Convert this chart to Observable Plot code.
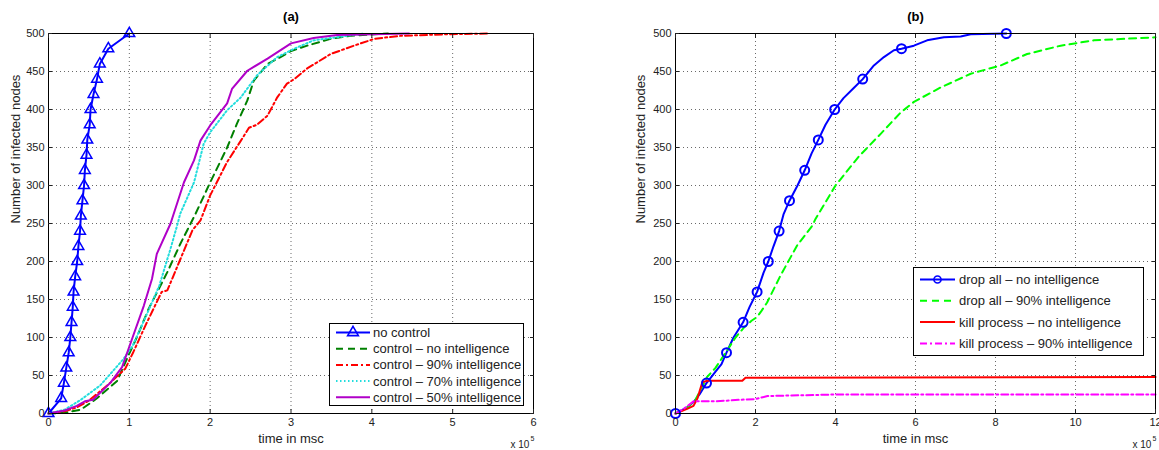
<!DOCTYPE html>
<html><head><meta charset="utf-8">
<script src="https://cdn.jsdelivr.net/npm/d3@7"></script>
<script src="https://cdn.jsdelivr.net/npm/@observablehq/plot@0.6"></script>
<style>
body{margin:0;background:#fff;font-family:"Liberation Sans",Arial,sans-serif;}
#wrap{position:relative;width:1159px;height:450px;overflow:hidden;}
</style></head><body><div id="wrap"></div>
<script>
// ---------- data (x in units of 10^5 msc, y = infected nodes) ----------
const yTicks = [0,50,100,150,200,250,300,350,400,450,500];
const xTicksA = [0,1,2,3,4,5,6];
const xTicksB = [0,2,4,6,8,10,12];

// panel (a)
const noControl = [[0,0],[0.157,20],[0.19,40],[0.22,60],[0.25,80],[0.27,100],[0.285,120],[0.30,140],[0.31,160],[0.33,180],[0.355,200],[0.37,220],[0.39,240],[0.40,260],[0.42,280],[0.44,300],[0.45,320],[0.47,340],[0.48,360],[0.51,380],[0.52,400],[0.557,420],[0.60,440],[0.635,460],[0.74,480],[1.0,500]];
const ctrlNoInt = [[0,0],[0.2,1],[0.4,5],[0.6,20],[0.85,43],[0.97,72],[1.1,102],[1.24,138],[1.47,186],[1.63,223],[1.82,263],[2.0,304],[2.21,350],[2.33,381],[2.46,412],[2.54,438],[2.71,460],[2.87,469],[3.0,477],[3.2,484],[3.49,493],[3.74,497],[4.2,500]];
const ctrl90 = [[0,0],[0.2,3],[0.35,8],[0.5,17],[0.75,39],[0.95,59],[1.05,81],[1.2,116],[1.4,160],[1.47,162],[1.6,195],[1.78,241],[1.88,254],[2.0,287],[2.21,331],[2.38,359],[2.48,376],[2.58,380],[2.71,392],[2.83,416],[2.95,434],[3.04,440],[3.2,454],[3.49,473],[3.78,484],[4.03,493],[4.36,497],[4.93,499],[5.43,500]];
const ctrl70 = [[0,0],[0.2,5],[0.4,18],[0.64,37],[0.93,72],[1.04,89],[1.18,122],[1.37,168],[1.51,217],[1.59,247],[1.63,263],[1.80,304],[1.92,355],[2.0,370],[2.21,399],[2.38,416],[2.58,445],[2.83,469],[3.04,480],[3.28,491],[3.70,497],[3.9,500]];
const ctrl50 = [[0,0],[0.2,4],[0.35,10],[0.45,16],[0.55,18],[0.77,41],[0.91,61],[1.04,100],[1.18,142],[1.28,177],[1.34,210],[1.51,250],[1.675,304],[1.80,333],[1.88,359],[2.0,379],[2.21,408],[2.27,427],[2.46,451],[2.71,467],[3.0,487],[3.28,494],[3.57,498],[4.46,500]];

// panel (b)
const dropNoInt = [[0,0],[0.29,8],[0.45,15],[0.6,25],[0.775,40],[1.0,55],[1.15,65],[1.275,80],[1.45,100],[1.69,120],[1.85,140],[2.04,160],[2.2,185],[2.32,200],[2.45,220],[2.59,240],[2.7,262],[2.85,280],[3.05,300],[3.23,320],[3.4,342],[3.57,360],[3.75,380],[3.98,400],[4.2,415],[4.45,428],[4.68,440],[4.96,458],[5.21,469],[5.46,478],[5.65,480],[5.96,484],[6.29,491],[6.71,495],[7.13,496],[7.38,499],[8.27,500]];
const dropNoIntMarkers = [[0,0],[0.775,40],[1.275,80],[1.69,120],[2.04,160],[2.32,200],[2.59,240],[2.85,280],[3.23,320],[3.57,360],[3.98,400],[4.68,440],[5.65,480],[8.27,500]];
const drop90 = [[0,0],[0.3,8],[0.5,18],[0.79,48],[1.0,60],[1.29,83],[1.5,100],[1.71,113],[1.9,122],[2.04,127],[2.15,135],[2.29,146],[2.63,182],[3.04,221],[3.42,247],[3.5,256],[4.0,300],[4.58,338],[5.13,368],[5.63,396],[5.96,410],[6.63,429],[7.38,447],[8.13,458],[8.79,473],[9.63,484],[10.46,491],[12,495]];
const killNoInt = [[0,0],[0.29,6],[0.45,10],[0.55,20],[0.67,41],[0.79,43],[1.67,43],[1.75,47],[12,48]];
const kill90 = [[0,0],[0.2,6],[0.45,16],[1.0,16],[1.6,18],[2.0,19],[2.3,23],[4.0,25],[12,25]];

const legendA = ["no control","control – no intelligence","control – 90% intelligence","control – 70% intelligence","control – 50% intelligence"];
const legendB = ["drop all – no intelligence","drop all – 90% intelligence","kill process – no intelligence","kill process – 90% intelligence"];

// ---------- styles ----------
const S = {
  noControl:{stroke:"#0000ff", w:2, dash:null, marker:"triangle"},
  ctrlNoInt:{stroke:"#008000", w:2, dash:"7,5"},
  ctrl90:{stroke:"#ff0000", w:2, dash:"7,3,2,3"},
  ctrl70:{stroke:"#22dddd", w:2, dash:"1.5,2.5"},
  ctrl50:{stroke:"#b000c8", w:2, dash:null},
  dropNoInt:{stroke:"#0000ff", w:2, dash:null, marker:"circle"},
  drop90:{stroke:"#00ff00", w:2, dash:"7,5"},
  killNoInt:{stroke:"#ff0000", w:2, dash:null},
  kill90:{stroke:"#ff00ff", w:2, dash:"7,3,2,3"}
};

const fx = d => d[0], fy = d => d[1];
const FONT = "'Liberation Sans', Arial, Helvetica, sans-serif";

function panel({title, xDomain, xTicks, series, extra, width, marginLeft, marginRight, ylabDx}) {
  return Plot.plot({
    width, height: 450, marginLeft, marginRight, marginTop: 33, marginBottom: 37,
    style: {fontFamily: FONT, fontSize: "11px", color: "#222", background: "#fff", overflow: "visible"},
    x: {domain: xDomain},
    y: {domain: [0, 500]},
    marks: [
      Plot.gridX(xTicks, {stroke: "#444", strokeOpacity: 0.8, strokeDasharray: "1,3"}),
      Plot.gridY(yTicks, {stroke: "#444", strokeOpacity: 0.8, strokeDasharray: "1,3"}),
      ...series.map(([data, s]) => Plot.line(data, {x: fx, y: fy, stroke: s.stroke, strokeWidth: s.w, strokeDasharray: s.dash})),
      ...extra,
      Plot.frame({stroke: "#000"}),
      Plot.axisX(xTicks, {anchor: "bottom", tickSize: -4, tickFormat: () => "", label: null}),
      Plot.axisX(xTicks, {anchor: "top", tickSize: -4, tickFormat: () => "", label: null}),
      Plot.axisY(yTicks, {anchor: "left", tickSize: -4, tickFormat: () => "", label: null}),
      Plot.axisY(yTicks, {anchor: "right", tickSize: -4, tickFormat: () => "", label: null}),
      Plot.axisX(xTicks, {anchor: "bottom", tickSize: 0, tickPadding: 5, label: null, fontSize: 11}),
      Plot.axisY(yTicks, {anchor: "left", tickSize: 0, tickPadding: 4, label: null, fontSize: 11}),
      Plot.text([title], {frameAnchor: "top", dy: -22, fontWeight: "bold", fontSize: 13, fill: "#000"}),
      Plot.text(["time in msc"], {frameAnchor: "bottom", dy: 29, fontSize: 13, fill: "#222"}),
      Plot.text(["Number of infected nodes"], {frameAnchor: "left", dx: ylabDx, rotate: -90, fontSize: 13, fill: "#222"}),
      Plot.text(["x 10"], {frameAnchor: "bottom-right", dx: -23, dy: 34, textAnchor: "start", fontSize: 10, fill: "#222"}),
      Plot.text(["5"], {frameAnchor: "bottom-right", dx: -3, dy: 27, textAnchor: "start", fontSize: 7, fill: "#222"})
    ]
  });
}

const wrap = document.getElementById("wrap");

const plotA = panel({
  title: "(a)", xDomain: [0, 6], xTicks: xTicksA, width: 580, marginLeft: 48, marginRight: 47, ylabDx: -33,
  series: [[noControl, S.noControl],[ctrlNoInt, S.ctrlNoInt],[ctrl90, S.ctrl90],[ctrl70, S.ctrl70],[ctrl50, S.ctrl50]],
  extra: [Plot.dot(noControl, {x: fx, y: fy, symbol: "triangle", r: 4, stroke: "#0000ff", strokeWidth: 1.5, fill: "none"})]
});
plotA.style.position = "absolute"; plotA.style.left = "0px"; plotA.style.top = "0px";
wrap.appendChild(plotA);

const plotB = panel({
  title: "(b)", xDomain: [0, 12], xTicks: xTicksB, width: 579, marginLeft: 95, marginRight: 4, ylabDx: -35,
  series: [[dropNoInt, S.dropNoInt],[drop90, S.drop90],[killNoInt, S.killNoInt],[kill90, S.kill90]],
  extra: [Plot.dot(dropNoIntMarkers, {x: fx, y: fy, symbol: "circle", r: 4.5, stroke: "#0000ff", strokeWidth: 2, fill: "none"})]
});
plotB.style.position = "absolute"; plotB.style.left = "580px"; plotB.style.top = "0px";
wrap.appendChild(plotB);

// ---------- in-plot legends ----------
function legend(labels, styles, {left, top, width, height, y0, rowH, lx0, lx1, tx}) {
  const svg = d3.create("svg").attr("width", width).attr("height", height)
    .style("position", "absolute").style("left", left + "px").style("top", top + "px")
    .style("font-family", FONT).style("font-size", "13px");
  svg.append("rect").attr("x", 0.5).attr("y", 0.5).attr("width", width - 1).attr("height", height - 1)
    .attr("fill", "#fff").attr("stroke", "#000");
  labels.forEach((lab, i) => {
    const s = styles[i], y = y0 + i * rowH;
    svg.append("line").attr("x1", lx0).attr("x2", lx1).attr("y1", y).attr("y2", y)
      .attr("stroke", s.stroke).attr("stroke-width", s.w).attr("stroke-dasharray", s.dash);
    if (s.marker) {
      const sym = s.marker === "triangle" ? d3.symbolTriangle : d3.symbolCircle;
      const size = s.marker === "triangle" ? 50 : 40;
      svg.append("path").attr("d", d3.symbol(sym, size)()).attr("transform", `translate(${(lx0 + lx1) / 2},${y})`)
        .attr("fill", "none").attr("stroke", s.stroke).attr("stroke-width", 1.6);
    }
    svg.append("text").attr("x", tx).attr("y", y).attr("dy", "0.35em").attr("fill", "#222").text(lab);
  });
  return svg.node();
}

wrap.appendChild(legend(legendA, [S.noControl, S.ctrlNoInt, S.ctrl90, S.ctrl70, S.ctrl50],
  {left: 329, top: 323, width: 195, height: 83, y0: 9.5, rowH: 16.2, lx0: 7, lx1: 41, tx: 44}));
wrap.appendChild(legend(legendB, [S.dropNoInt, S.drop90, S.killNoInt, S.kill90],
  {left: 913, top: 267, width: 231, height: 89, y0: 12.5, rowH: 21.3, lx0: 7, lx1: 42, tx: 46}));
</script></body></html>
